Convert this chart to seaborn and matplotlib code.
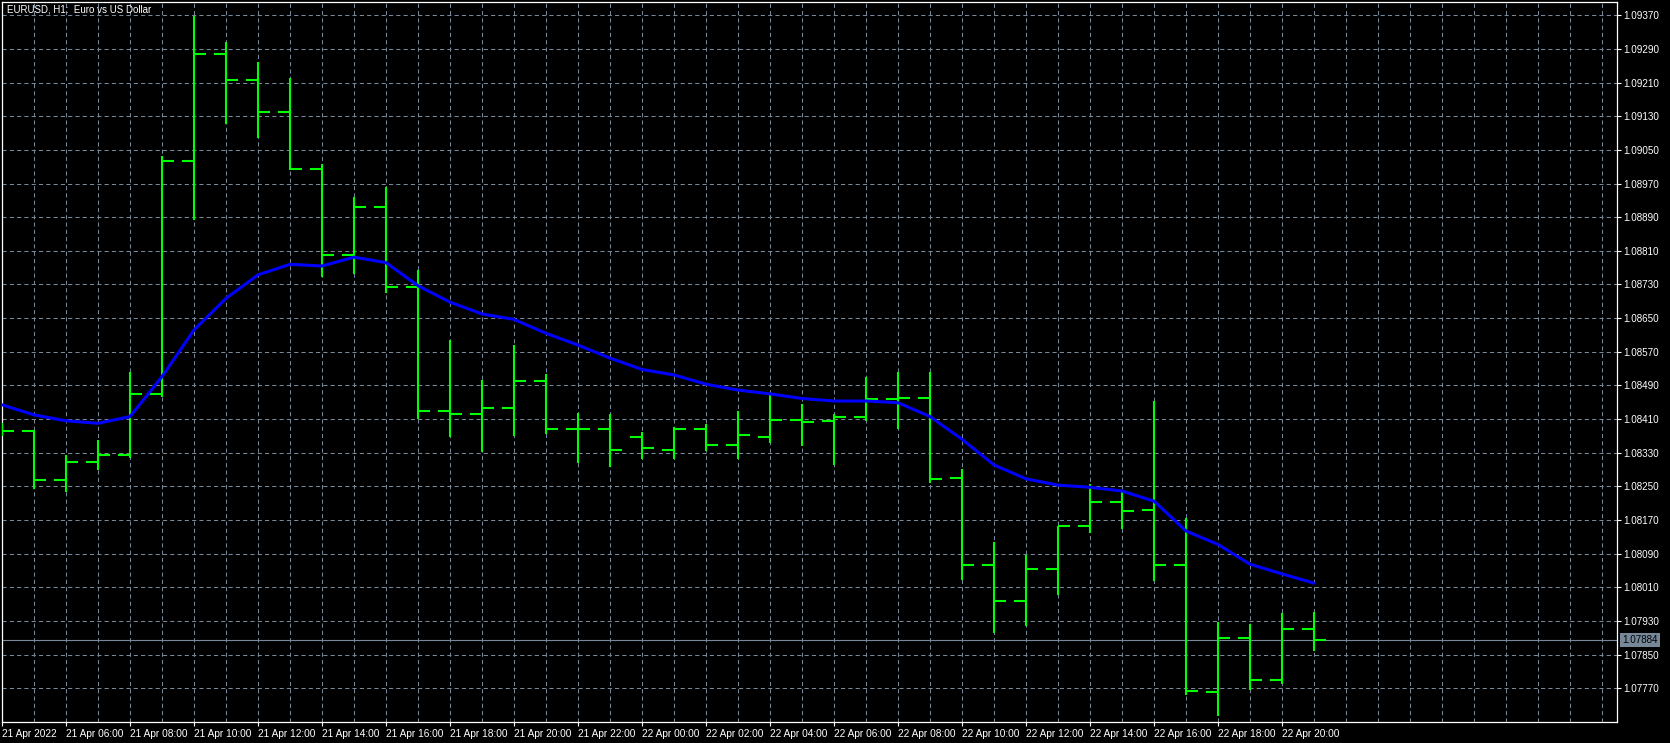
import numpy as np
import pandas as pd
import seaborn as sns
import matplotlib
matplotlib.use("Agg")
import matplotlib.pyplot as plt

# EURUSD H1 bars, 21 Apr 2022 04:00 .. 22 Apr 2022 21:00
times = pd.date_range("2022-04-21 04:00", periods=42, freq="h")

opens = [1.08392, 1.08382, 1.08265, 1.08309, 1.08325, 1.08469, 1.09024, 1.09279, 1.09215, 1.09140,
         1.09005, 1.08800, 1.08914, 1.08724, 1.08430, 1.08422, 1.08436, 1.08501, 1.08386, 1.08387,
         1.08368, 1.08337, 1.08387, 1.08348, 1.08368, 1.08409, 1.08406, 1.08416, 1.08458, 1.08460,
         1.08269, 1.08063, 1.07978, 1.08054, 1.08156, 1.08214, 1.08194, 1.08063, 1.07761, 1.07890,
         1.07790, 1.07912]
highs = [1.08400, 1.08383, 1.08324, 1.08360, 1.08521, 1.09036, 1.09369, 1.09306, 1.09258, 1.09220,
         1.09017, 1.08937, 1.08961, 1.08764, 1.08598, 1.08503, 1.08586, 1.08517, 1.08424, 1.08421,
         1.08379, 1.08391, 1.08398, 1.08429, 1.08467, 1.08446, 1.08422, 1.08510, 1.08522, 1.08522,
         1.08291, 1.08119, 1.08088, 1.08157, 1.08256, 1.08236, 1.08453, 1.08174, 1.07928, 1.07922,
         1.07949, 1.07951]
lows = [1.08370, 1.08243, 1.08237, 1.08289, 1.08318, 1.08462, 1.08883, 1.09112, 1.09078, 1.09002,
        1.08747, 1.08755, 1.08709, 1.08411, 1.08368, 1.08332, 1.08370, 1.08375, 1.08306, 1.08297,
        1.08316, 1.08316, 1.08335, 1.08315, 1.08354, 1.08346, 1.08301, 1.08406, 1.08387, 1.08258,
        1.08027, 1.07902, 1.07919, 1.07993, 1.08139, 1.08148, 1.08024, 1.07754, 1.07705, 1.07766,
        1.07780, 1.07859]
closes = [1.08382, 1.08265, 1.08309, 1.08325, 1.08469, 1.09024, 1.09279, 1.09215, 1.09140, 1.09005,
          1.08800, 1.08914, 1.08724, 1.08430, 1.08422, 1.08436, 1.08501, 1.08386, 1.08387, 1.08337,
          1.08342, 1.08387, 1.08348, 1.08373, 1.08409, 1.08403, 1.08416, 1.08458, 1.08460, 1.08268,
          1.08063, 1.07978, 1.08054, 1.08156, 1.08214, 1.08192, 1.08063, 1.07764, 1.07890, 1.07790,
          1.07912, 1.07884]
# moving average (blue line)
ma = [1.08444, 1.08420, 1.08406, 1.08400, 1.08416, 1.08511, 1.08622, 1.08697, 1.08753, 1.08778,
      1.08774, 1.08795, 1.08782, 1.08727, 1.08688, 1.08660, 1.08647, 1.08614, 1.08586, 1.08555,
      1.08528, 1.08515, 1.08493, 1.08479, 1.08470, 1.08459, 1.08453, 1.08453, 1.08449, 1.08416,
      1.08362, 1.08301, 1.08268, 1.08253, 1.08248, 1.08239, 1.08215, 1.08144, 1.08112, 1.08065,
      1.08042, 1.08020]

price_ticks = [1.07770, 1.07850, 1.07930, 1.08010, 1.08090, 1.08170, 1.08250, 1.08330, 1.08410,
               1.08490, 1.08570, 1.08650, 1.08730, 1.08810, 1.08890, 1.08970, 1.09050, 1.09130,
               1.09210, 1.09290, 1.09370]
last_price = 1.07884
title = "EURUSD, H1:  Euro vs US Dollar"

GRID = "#778899"
BAR = "#00ff00"

sns.set_theme(style="dark", rc={
    "axes.facecolor": "black",
    "figure.facecolor": "black",
    "axes.edgecolor": "white",
    "text.color": "white",
    "xtick.color": "white",
    "ytick.color": "white",
})
plt.rcParams["font.family"] = ["Liberation Sans", "DejaVu Sans"]

fig = plt.figure(figsize=(16.7, 7.43), dpi=100)
ax = fig.add_axes([2 / 1670, 21 / 743, 1615 / 1670, 720 / 743])

x = np.arange(len(opens))
w = 0.36

# current price line
ax.axhline(last_price, color=GRID, lw=0.8, zorder=1)

# OHLC bars
ax.vlines(x, lows, highs, color=BAR, lw=1.5, zorder=3)
ax.hlines(opens, x - w, x, color=BAR, lw=1.5, zorder=3)
ax.hlines(closes, x, x + w, color=BAR, lw=1.5, zorder=3)

# moving average
sns.lineplot(x=x, y=ma, ax=ax, color="#0000ff", linewidth=2.2, zorder=5)

ax.set_xlim(0, 1615 / 32)
ax.set_ylim(1.076899, 1.094016)

# axes / ticks
major = list(range(0, len(opens), 2))
labels = []
for i in major:
    t = times[i]
    labels.append(t.strftime("%d Apr %Y") if i == 0 else t.strftime("%d Apr %H:%M"))
ax.set_xticks(major)
ax.set_xticklabels(labels, ha="left", fontsize=7.3)
ax.set_xticks(range(0, 51), minor=True)
ax.yaxis.tick_right()
ax.set_yticks(price_ticks)
ax.set_yticklabels([f"{p:.5f}" for p in price_ticks], fontsize=7.1)
ax.tick_params(axis="x", which="major", length=3, width=0.8, pad=2, bottom=True)
ax.tick_params(axis="x", which="minor", length=0)
ax.tick_params(axis="y", which="major", length=3, width=0.8, pad=1.5, right=True, left=False)
ax.set_xlabel("")
ax.set_ylabel("")

ax.grid(True, which="both", color=GRID, linestyle=(0, (4, 3)), linewidth=0.75, zorder=0)
ax.set_axisbelow(True)
for s in ax.spines.values():
    s.set_visible(True)
    s.set_color("white")
    s.set_linewidth(0.9)

# price label on the right scale
ax.text(1.0032, last_price, f"{last_price:.5f}", transform=ax.get_yaxis_transform(),
        ha="left", va="center", fontsize=7.1, color="black", clip_on=False,
        bbox=dict(boxstyle="square,pad=0.2", fc=GRID, ec="none"))

fig.text(7 / 1670, 1 - 9.5 / 743, title, ha="left", va="center", fontsize=7.0, color="white")

fig.savefig("out.png", dpi=100, facecolor="black")
